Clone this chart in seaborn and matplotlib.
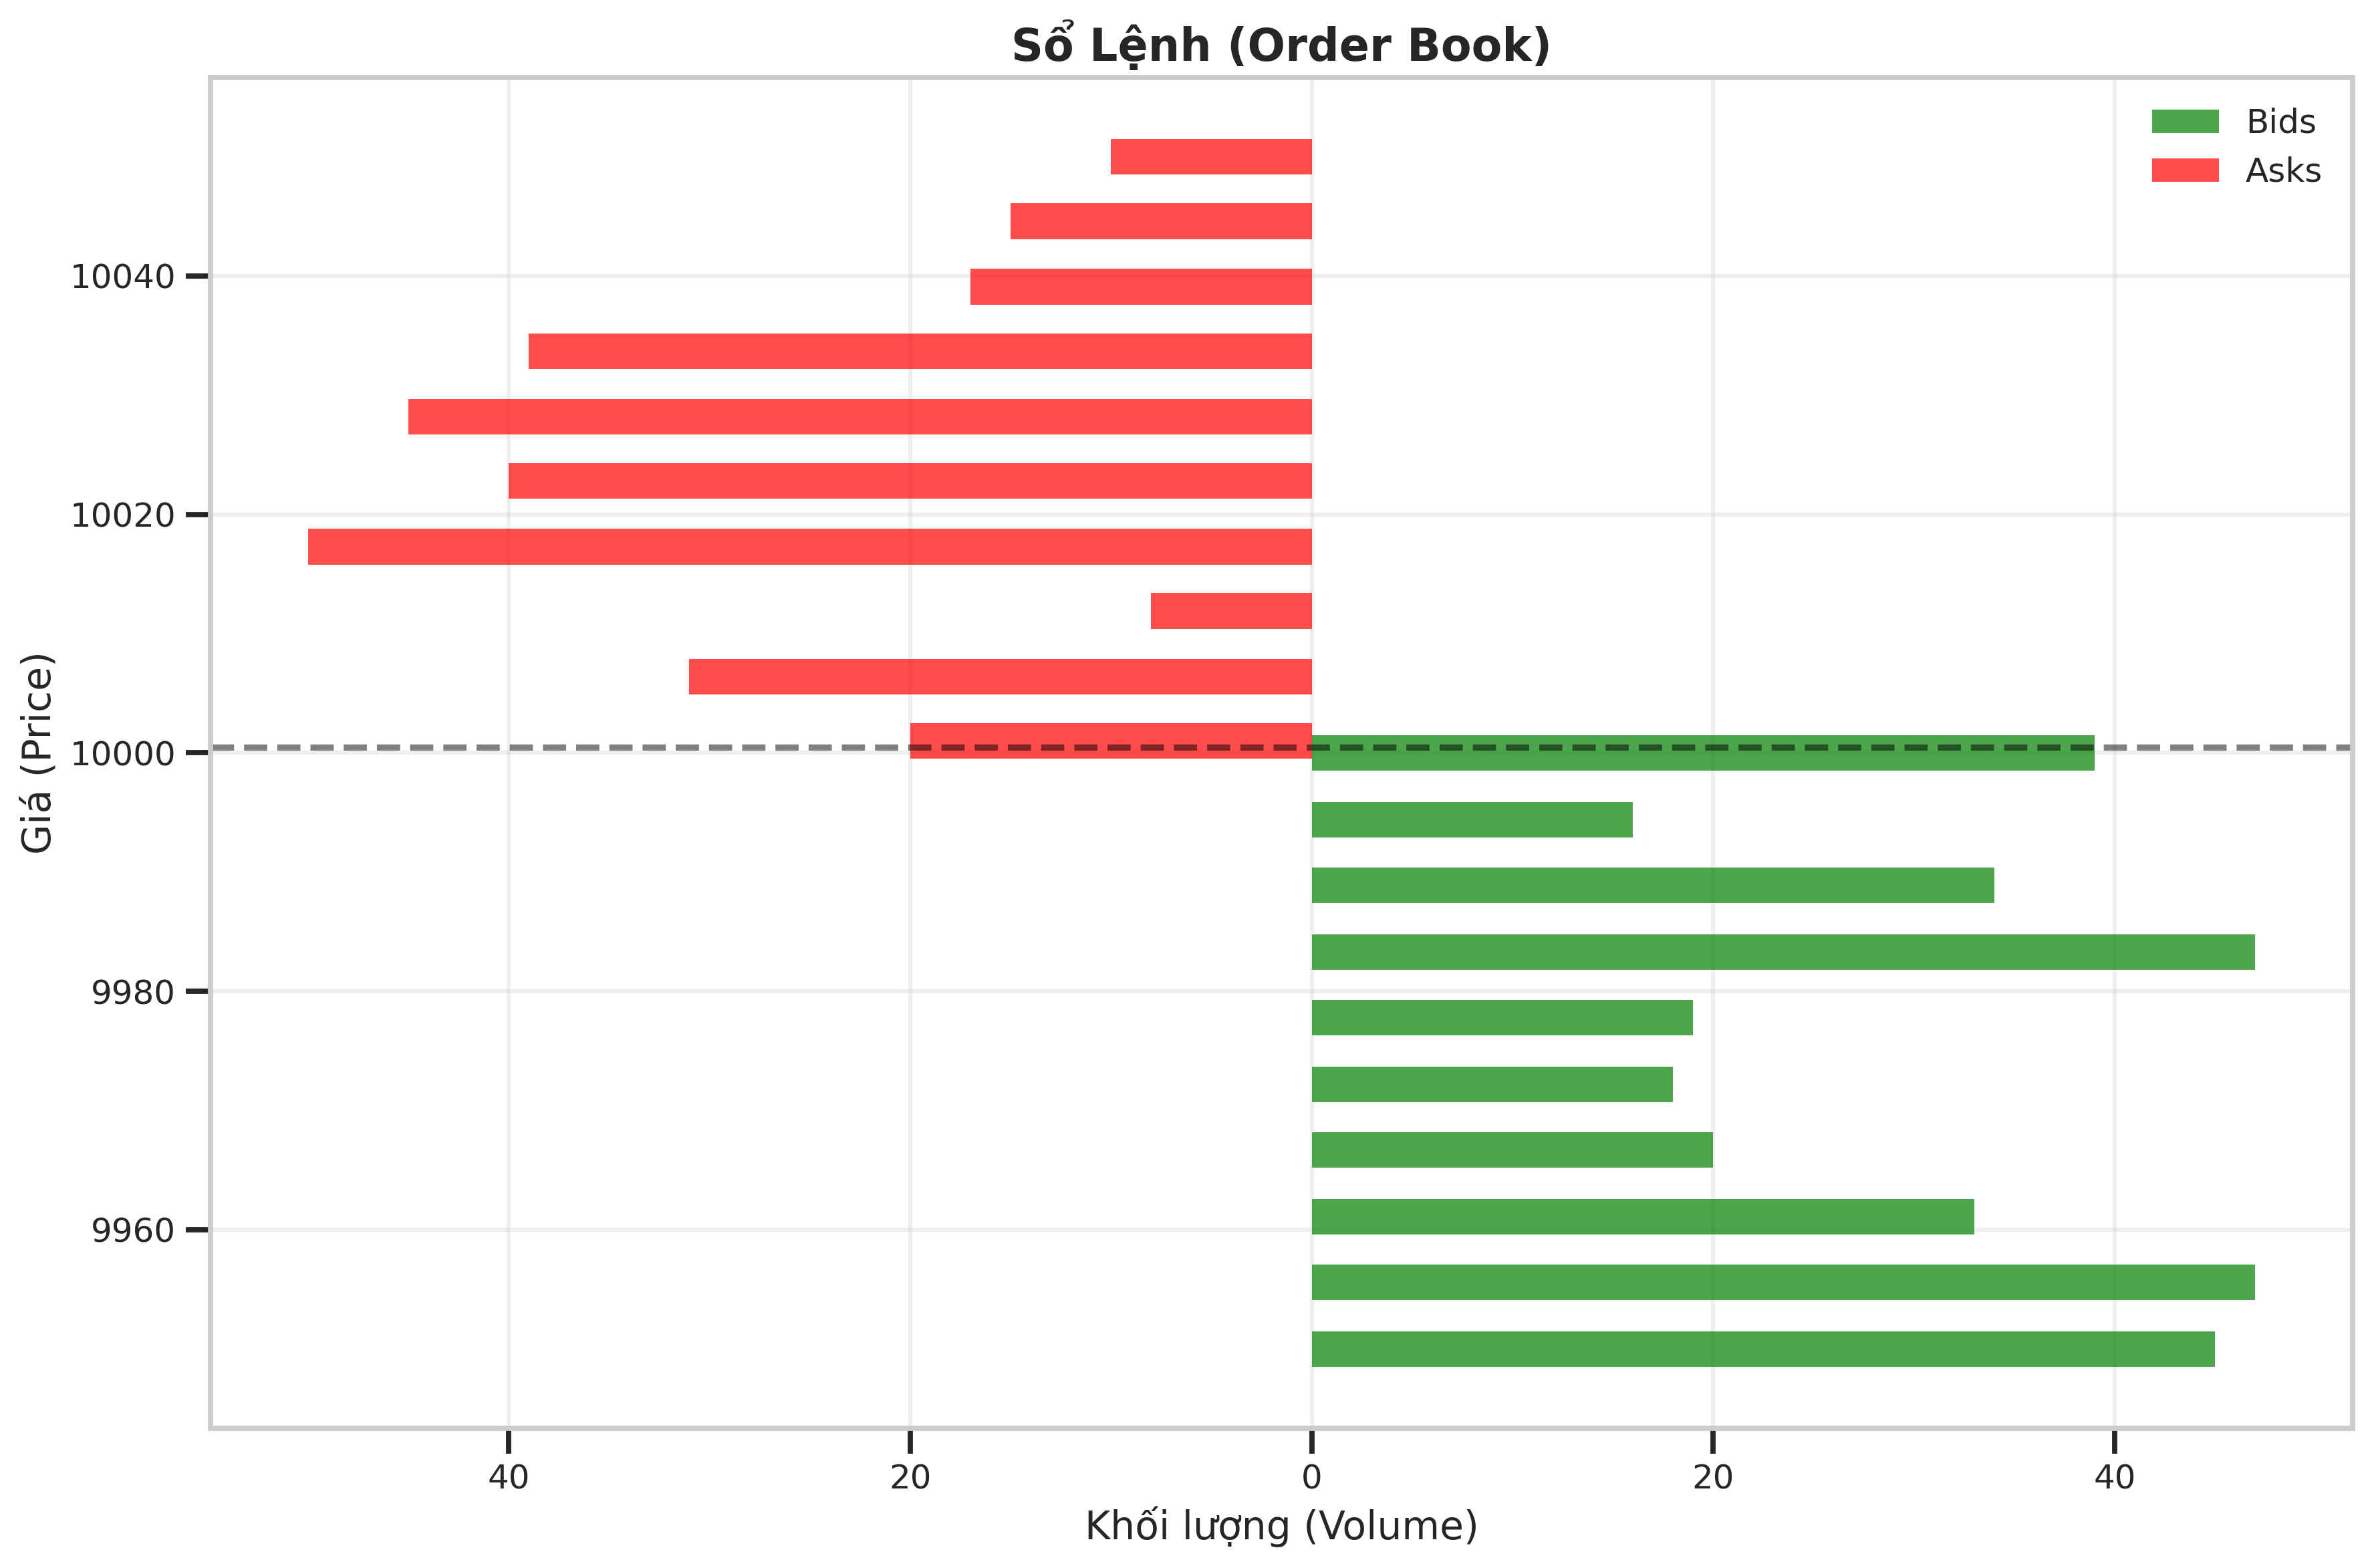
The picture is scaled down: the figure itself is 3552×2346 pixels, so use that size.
import numpy as np
import seaborn as sns
import matplotlib.pyplot as plt
from matplotlib.ticker import FuncFormatter

# du lieu so lenh
bid_prices = [9950.0, 9955.6, 9961.1, 9966.7, 9972.2, 9977.8, 9983.3, 9988.9, 9994.4, 10000.0]
bid_volumes = [45, 47, 33, 20, 18, 19, 47, 34, 16, 39]
ask_prices = [10001.0, 10006.4, 10011.9, 10017.3, 10022.8, 10028.2, 10033.7, 10039.1, 10044.6, 10050.0]
ask_volumes = [20, 31, 8, 50, 40, 45, 39, 17, 15, 10]
mid_price = 10000.5

sns.set_theme(style="whitegrid", context="talk")
plt.rcParams['font.family'] = ['DejaVu Sans']
plt.rcParams['xtick.bottom'] = True
plt.rcParams['ytick.left'] = True

fig, ax = plt.subplots(figsize=(11.84, 7.82))
fig.subplots_adjust(left=0.0887, right=0.991, top=0.9506, bottom=0.0891)

bar_h = 3.0
sns.barplot(x=bid_volumes, y=bid_prices, orient='h', native_scale=True,
            width=bar_h / np.min(np.diff(bid_prices)), color='green', alpha=0.7,
            saturation=1, linewidth=0, errorbar=None, label='Bids', ax=ax)
sns.barplot(x=[-v for v in ask_volumes], y=ask_prices, orient='h', native_scale=True,
            width=bar_h / np.min(np.diff(ask_prices)), color='red', alpha=0.7,
            saturation=1, linewidth=0, errorbar=None, label='Asks', ax=ax)

ax.axhline(mid_price, color='black', linestyle='--', alpha=0.5)

ax.xaxis.set_major_formatter(FuncFormatter(lambda v, p: f"{abs(v):g}"))
ax.set_xlabel("Khối lượng (Volume)", fontsize=14)
ax.set_ylabel("Giá (Price)", fontsize=14)
ax.set_title("Sổ Lệnh (Order Book)", fontsize=16, fontweight='bold')
ax.tick_params(labelsize=12)
ax.grid(True, alpha=0.3)
ax.legend(loc='upper right', fontsize=12, frameon=False)

plt.savefig("out.png", dpi=300)
